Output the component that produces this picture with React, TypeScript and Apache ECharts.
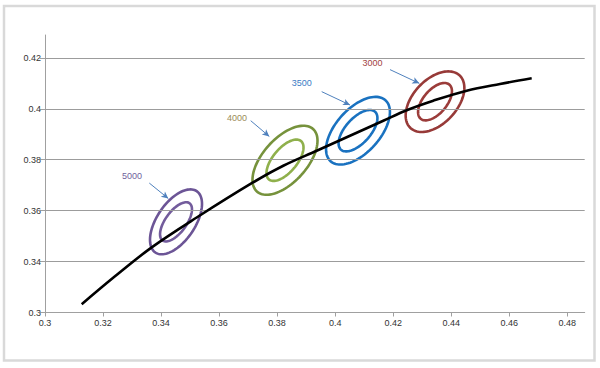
import React, { useEffect, useRef } from 'react';
import * as echarts from 'echarts';

// Trade-off curve (x, y)
const curveX = [0.31265, 0.32412, 0.33677, 0.35228, 0.37168, 0.38212, 0.39364, 0.40511, 0.41659, 0.42465, 0.43382, 0.44533, 0.45681, 0.46773];
const curveY = [0.32325, 0.33420, 0.34559, 0.35731, 0.37107, 0.37764, 0.38354, 0.38944, 0.39534, 0.39947, 0.40321, 0.40714, 0.40977, 0.41198];

// Ellipse groups
const groupNames = ['5000', '4000', '3500', '3000'];
const centerX = [0.34515, 0.38271, 0.40787, 0.43441];
const centerY = [0.35561, 0.37980, 0.39141, 0.40281];

// Annotation label anchors and arrows
const labelX = [0.32998, 0.36617, 0.38847, 0.41287];
const labelY = [0.37371, 0.39652, 0.41017, 0.41788];
const arrowFromX = [0.33594, 0.37089, 0.39536, 0.41890];
const arrowFromY = [0.37084, 0.39534, 0.40675, 0.41540];
const arrowToX = [0.34249, 0.37730, 0.40511, 0.42900];
const arrowToY = [0.36478, 0.38916, 0.40151, 0.41001];

// Axis ticks
const xTickValues = [0.3, 0.32, 0.34, 0.36, 0.38, 0.4, 0.42, 0.44, 0.46, 0.48];
const xTickLabels = ['0.3', '0.32', '0.34', '0.36', '0.38', '0.4', '0.42', '0.44', '0.46', '0.48'];
const yTickValues = [0.32, 0.34, 0.36, 0.38, 0.4, 0.42];
const yTickLabels = ['0.3', '0.34', '0.36', '0.38', '0.4', '0.42'];
const yGridValues = [0.34, 0.36, 0.38, 0.4, 0.42];

// Styling (pixel ring shapes: [semi-major, semi-minor, angle deg])
const ringShapes = [
  [[37, 19, 56], [23, 10.5, 54]],
  [[42, 22, 48], [25, 12, 50]],
  [[41, 22, 48], [25.5, 12.5, 48]],
  [[36, 22, 47], [22.3, 11.8, 50]],
];
const ringColors = [
  ['#6c5596', '#735c9c'],
  ['#76923c', '#8fb04c'],
  ['#1a72c0', '#1a72c0'],
  ['#973a38', '#9b3c3a'],
];
const labelColors = ['#6f629c', '#9a8c58', '#3b7cc4', '#a2433f'];

function ellipsePoints(cx: number, cy: number, a: number, b: number, deg: number) {
  const th = (deg * Math.PI) / 180;
  const ct = Math.cos(th);
  const st = Math.sin(th);
  const pts: number[][] = [];
  const n = 96;
  for (let k = 0; k < n; k++) {
    const t = (k / n) * Math.PI * 2;
    const ex = a * Math.cos(t);
    const ey = b * Math.sin(t);
    pts.push([cx + ex * ct - ey * st, cy - (ex * st + ey * ct)]);
  }
  return pts;
}

function findLabel(values: number[], labels: string[], v: number) {
  for (let i = 0; i < values.length; i++) {
    if (Math.abs(values[i] - v) < 1e-7) return labels[i];
  }
  return '';
}

export default function App() {
  const ref = useRef<HTMLDivElement>(null);
  useEffect(() => {
    const chart = echarts.init(ref.current!, null, { renderer: 'svg' });
    const axisColor = '#a0a0a0';
    const option: any = {
      animation: false,
      backgroundColor: '#ffffff',
      grid: { left: 45, right: 15.3, top: 35, bottom: 55.5, containLabel: false },
      xAxis: {
        type: 'value',
        min: 0.3,
        max: 0.486,
        interval: 0.02,
        axisLine: { show: true, lineStyle: { color: axisColor, width: 1 } },
        axisTick: { show: true, length: 4, customValues: xTickValues, lineStyle: { color: axisColor } },
        splitLine: { show: false },
        axisLabel: {
          customValues: xTickValues,
          color: '#333',
          fontSize: 9,
          fontFamily: 'Liberation Sans',
          margin: 6,
          formatter: (v: number) => findLabel(xTickValues, xTickLabels, v),
        },
      },
      yAxis: {
        type: 'value',
        min: 0.32,
        max: 0.429,
        interval: 0.02,
        axisLine: { show: true, lineStyle: { color: axisColor, width: 1 } },
        axisTick: { show: true, length: 5, customValues: yTickValues, lineStyle: { color: axisColor } },
        splitLine: { show: false },
        axisLabel: {
          customValues: yTickValues,
          color: '#333',
          fontSize: 9,
          fontFamily: 'Liberation Sans',
          margin: 4,
          formatter: (v: number) => findLabel(yTickValues, yTickLabels, v),
        },
      },
      graphic: [
        {
          type: 'rect',
          shape: { x: 4, y: 6, width: 590.5, height: 354.5 },
          style: { fill: 'none', stroke: '#d9d9d9', lineWidth: 2.5 },
          silent: true,
        },
      ],
      series: [
        {
          name: 'grid',
          type: 'line',
          data: [],
          z: 1,
          silent: true,
          markLine: {
            silent: true,
            symbol: ['none', 'none'],
            label: { show: false },
            lineStyle: { color: '#9c9c9c', width: 1, type: 'solid' },
            data: yGridValues.map((v) => ({ yAxis: v })),
          },
        },
        {
          name: 'rings',
          type: 'custom',
          z: 3,
          data: centerX.map((x, i) => [x, centerY[i]]),
          encode: { x: 0, y: 1 },
          renderItem: (params: any, api: any) => {
            const i = params.dataIndex;
            const c = api.coord([api.value(0), api.value(1)]);
            return {
              type: 'group',
              children: ringShapes[i].map((r, k) => ({
                type: 'polygon',
                shape: { points: ellipsePoints(c[0], c[1], r[0], r[1], r[2]) },
                style: { fill: 'none', stroke: ringColors[i][k], lineWidth: 2.6 },
              })),
            };
          },
        },
        {
          name: 'curve',
          type: 'line',
          z: 5,
          data: curveX.map((x, i) => [x, curveY[i]]),
          smooth: 0.35,
          symbol: 'none',
          lineStyle: { color: '#000000', width: 2.6 },
        },
        {
          name: 'labels',
          type: 'custom',
          z: 6,
          data: groupNames.map((n, i) => [labelX[i], labelY[i]]),
          encode: { x: 0, y: 1 },
          renderItem: (params: any, api: any) => {
            const i = params.dataIndex;
            const c = api.coord([api.value(0), api.value(1)]);
            return {
              type: 'text',
              x: c[0],
              y: c[1],
              style: {
                text: groupNames[i],
                fill: labelColors[i],
                fontSize: 9,
                fontFamily: 'Liberation Sans',
                align: 'center',
                verticalAlign: 'middle',
              },
            };
          },
          markLine: {
            silent: true,
            symbol: ['none', 'arrow'],
            symbolSize: [5, 7],
            label: { show: false },
            lineStyle: { color: '#4f81bd', width: 1, type: 'solid' },
            data: groupNames.map((n, i) => [
              { coord: [arrowFromX[i], arrowFromY[i]] },
              { coord: [arrowToX[i], arrowToY[i]] },
            ]),
          },
        },
      ],
    };
    chart.setOption(option);
    return () => chart.dispose();
  }, []);
  return (
    <div
      ref={ref}
      style={{ position: 'fixed', left: 0, top: 0, width: 600, height: 368, background: '#fff' }}
    />
  );
}
